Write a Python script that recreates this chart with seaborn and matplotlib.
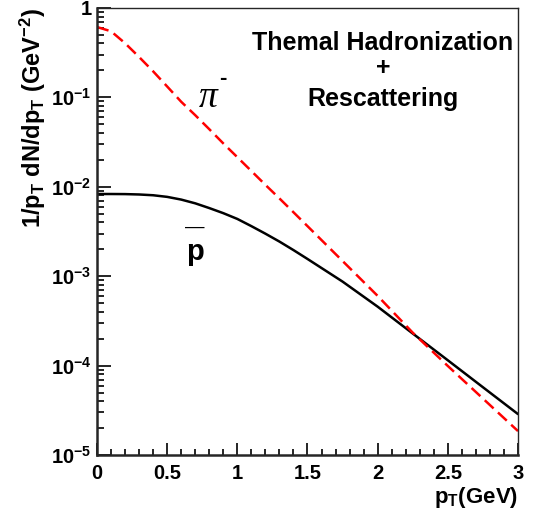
import numpy as np
import pandas as pd
import seaborn as sns
import matplotlib.pyplot as plt
from matplotlib.ticker import FixedLocator, LogLocator, MultipleLocator, FuncFormatter, NullFormatter

# values (pT in GeV, 1/pT dN/dpT in GeV^-2)
pt = [0.0, 0.1, 0.2, 0.3, 0.4, 0.5, 0.6, 0.7, 0.8, 0.9, 1.0, 1.1, 1.2, 1.3, 1.4,
      1.5, 1.75, 2.0, 2.25, 2.5, 2.75, 3.0]
pion = [0.610, 0.547, 0.402, 0.282, 0.195, 0.132, 0.0891, 0.0631, 0.0440, 0.0305, 0.0214,
        0.0150, 0.0105, 7.41e-3, 5.19e-3, 3.63e-3, 1.48e-3, 6.03e-4, 2.34e-4, 9.93e-5,
        4.30e-5, 1.86e-5]
pbar = [8.30e-3, 8.30e-3, 8.28e-3, 8.20e-3, 8.04e-3, 7.71e-3, 7.19e-3, 6.53e-3, 5.78e-3,
        5.07e-3, 4.37e-3, 3.63e-3, 2.99e-3, 2.44e-3, 1.96e-3, 1.56e-3, 8.71e-4, 4.57e-4,
        2.29e-4, 1.15e-4, 5.75e-5, 2.88e-5]

x_ticks = [0, 0.5, 1, 1.5, 2, 2.5, 3]
y_ticks = [1e-5, 1e-4, 1e-3, 1e-2, 1e-1, 1]

sns.set_style('ticks')
plt.rcParams['font.family'] = ['Liberation Sans', 'DejaVu Sans']
plt.rcParams['text.color'] = 'black'
plt.rcParams['axes.labelcolor'] = 'black'
plt.rcParams['xtick.color'] = 'black'
plt.rcParams['ytick.color'] = 'black'
plt.rcParams['mathtext.fontset'] = 'custom'
plt.rcParams['mathtext.rm'] = 'Liberation Sans:bold'
plt.rcParams['mathtext.bf'] = 'Liberation Sans:bold'
plt.rcParams['mathtext.it'] = 'Liberation Sans:bold'
plt.rcParams['mathtext.default'] = 'bf'

df = pd.DataFrame({'pt': pt, 'pion': pion, 'pbar': pbar})

fig = plt.figure(figsize=(5.39, 5.22), dpi=100)
ax = fig.add_axes([0.180, 0.128, 0.781, 0.857])

sns.lineplot(data=df, x='pt', y='pbar', color='black', linewidth=1.8, ax=ax)
sns.lineplot(data=df, x='pt', y='pion', color='#ff0000', linewidth=1.8, ax=ax)
ax.lines[1].set_dashes([4.8, 2.4])

ax.set_yscale('log')
ax.set_xlim(0, 3)
ax.set_ylim(1e-5, 1)

ax.xaxis.set_major_locator(FixedLocator(x_ticks))
ax.xaxis.set_minor_locator(MultipleLocator(0.1))
ax.yaxis.set_major_locator(FixedLocator(y_ticks))
ax.yaxis.set_minor_locator(LogLocator(base=10, subs=np.arange(2, 10)))
ax.yaxis.set_minor_formatter(NullFormatter())

def xfmt(v, _):
  return f'{v:g}'

def yfmt(v, _):
  e = int(round(np.log10(v)))
  if e == 0:
    return '1'
  return r'$\mathbf{10^{%d}}$' % e

ax.xaxis.set_major_formatter(FuncFormatter(xfmt))
ax.yaxis.set_major_formatter(FuncFormatter(yfmt))

ax.tick_params(axis='both', which='both', direction='in', colors='black', labelsize=14.5, width=1.2)
ax.tick_params(axis='x', which='major', length=8.5, pad=6)
ax.tick_params(axis='x', which='minor', length=4.3)
ax.tick_params(axis='y', which='major', length=10, pad=4)
ax.tick_params(axis='y', which='minor', length=5)
for lbl in ax.get_xticklabels() + ax.get_yticklabels():
  lbl.set_fontweight('bold')

for side in ['left', 'bottom']:
  ax.spines[side].set_linewidth(1.8)
for side in ['top', 'right']:
  ax.spines[side].set_visible(True)
  ax.spines[side].set_linewidth(1.0)

ax.set_xlabel(r'$\mathbf{p_T}$(GeV)', fontsize=16, fontweight='bold', loc='right', labelpad=2)
ax.set_ylabel(r'1/$\mathbf{p_T}$ dN/d$\mathbf{p_T}$ (GeV$\mathbf{^{-2}}$)', fontsize=17,
              fontweight='bold', loc='top', labelpad=2)

ax.text(0.679, 0.922, 'Themal Hadronization', transform=ax.transAxes, ha='center', va='center',
        fontsize=18, fontweight='bold')
ax.text(0.679, 0.865, '+', transform=ax.transAxes, ha='center', va='center',
        fontsize=18, fontweight='bold')
ax.text(0.679, 0.796, 'Rescattering', transform=ax.transAxes, ha='center', va='center',
        fontsize=18, fontweight='bold')

ax.text(0.265, 0.80, '\u03c0', transform=ax.transAxes, ha='center', va='center',
        fontsize=27, style='italic', family=['Liberation Serif', 'DejaVu Serif'])
ax.text(0.30, 0.843, '-', transform=ax.transAxes, ha='center', va='center',
        fontsize=16, fontweight='bold')

ax.text(0.232, 0.455, 'p', transform=ax.transAxes, ha='center', va='center',
        fontsize=21, fontweight='bold')
ax.text(0.232, 0.51, '\u2014', transform=ax.transAxes, ha='center', va='center',
        fontsize=14)

fig.savefig('out.png', dpi=100)
